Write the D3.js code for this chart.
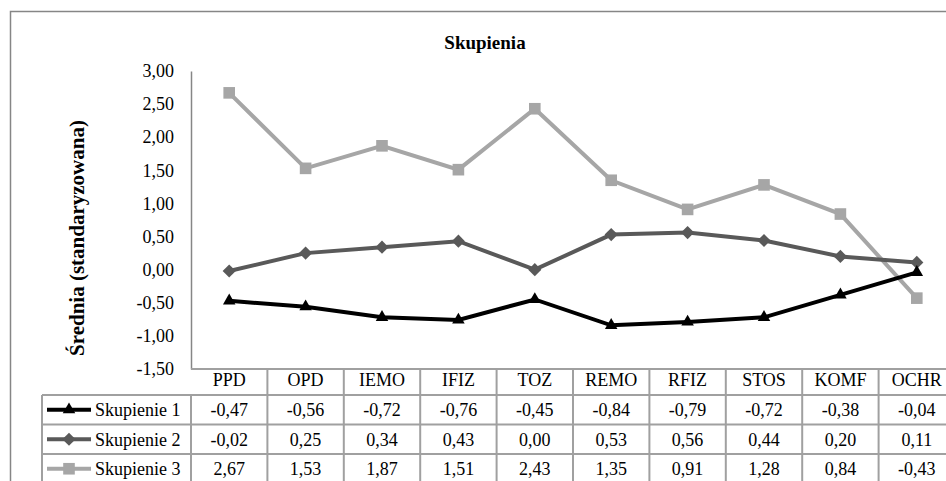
<!DOCTYPE html>
<html><head><meta charset="utf-8"><script src="https://cdn.jsdelivr.net/npm/d3@7"></script></head>
<body style="margin:0">
<script>
var categories = ["PPD", "OPD", "IEMO", "IFIZ", "TOZ", "REMO", "RFIZ", "STOS", "KOMF", "OCHR"];
var seriesNames = ["Skupienie 1", "Skupienie 2", "Skupienie 3"];
var skupienie1 = [-0.47, -0.56, -0.72, -0.76, -0.45, -0.84, -0.79, -0.72, -0.38, -0.04];
var skupienie2 = [-0.02, 0.25, 0.34, 0.43, 0.00, 0.53, 0.56, 0.44, 0.20, 0.11];
var skupienie3 = [2.67, 1.53, 1.87, 1.51, 2.43, 1.35, 0.91, 1.28, 0.84, -0.43];
var yTicks = [-1.5, -1, -0.5, 0, 0.5, 1, 1.5, 2, 2.5, 3];

var series = [
  { name: seriesNames[0], values: skupienie1, color: "#000000", symbol: d3.symbolTriangle, size: 68 },
  { name: seriesNames[1], values: skupienie2, color: "#595959", symbol: d3.symbolDiamond2 || d3.symbolDiamond, size: 110 },
  { name: seriesNames[2], values: skupienie3, color: "#a6a6a6", symbol: d3.symbolSquare, size: 135 }
];

var W = 946, H = 481;
var plotLeft = 191, plotRight = 955, plotTop = 71, plotBottom = 369;
var tableLeft = 42, headerH = 26, rowH = 29.5;
var FONT = "Liberation Serif";

var locale = d3.formatLocale({ decimal: ",", thousands: " ", grouping: [3], currency: ["", ""], minus: "-" });
var fmt = locale.format(".2f");

var svg = d3.select("body").append("svg")
    .attr("width", W)
    .attr("height", H)
    .style("display", "block")
    .style("font-family", FONT);

// outer frame
svg.append("rect")
    .attr("x", 10.5).attr("y", 11.5)
    .attr("width", 1000).attr("height", 600)
    .attr("fill", "none")
    .attr("stroke", "#868686")
    .attr("stroke-width", 1.5);

svg.append("text")
    .attr("x", 485).attr("y", 49)
    .attr("text-anchor", "middle")
    .style("font-family", FONT)
    .style("font-size", "19px")
    .style("font-weight", "bold")
    .text("Skupienia");

svg.append("text")
    .attr("transform", "translate(84,238) rotate(-90)")
    .attr("text-anchor", "middle")
    .style("font-family", FONT)
    .style("font-size", "21px")
    .style("font-weight", "bold")
    .text("Średnia (standaryzowana)");

var x = d3.scaleBand()
    .domain(categories)
    .range([plotLeft, plotRight]);

var y = d3.scaleLinear()
    .domain([-1.5, 3])
    .range([plotBottom, plotTop]);

// y axis labels (no tick marks)
var yAxis = svg.append("g")
    .attr("transform", "translate(" + plotLeft + ",0)")
    .call(d3.axisLeft(y).tickValues(yTicks).tickSize(0).tickPadding(17).tickFormat(fmt));
yAxis.attr("font-family", null).attr("font-size", null);
yAxis.select(".domain").attr("stroke", "#868686").attr("stroke-width", 1.5);
yAxis.selectAll("text")
    .style("font-family", FONT)
    .style("font-size", "18px")
    .attr("fill", "#000");

// lines
var line = d3.line()
    .x(function(d, i) { return x(categories[i]) + x.bandwidth() / 2; })
    .y(function(d) { return y(d); });

series.slice().reverse().forEach(function(s) {
  var g = svg.append("g");
  g.append("path")
      .datum(s.values)
      .attr("d", line)
      .attr("fill", "none")
      .attr("stroke", s.color)
      .attr("stroke-width", 4);
  g.selectAll("path.pt")
      .data(s.values)
    .enter().append("path")
      .attr("class", "pt")
      .attr("transform", function(d, i) { return "translate(" + (x(categories[i]) + x.bandwidth() / 2) + "," + y(d) + ")"; })
      .attr("d", d3.symbol().type(s.symbol).size(s.size))
      .attr("fill", s.color);
});

// data table
var tbl = svg.append("g");
var gridColor = "#a0a0a0";
var tableBottom = plotBottom + headerH + rowH * series.length;

tbl.append("line")
    .attr("x1", plotLeft).attr("x2", plotRight)
    .attr("y1", plotBottom).attr("y2", plotBottom)
    .attr("stroke", gridColor).attr("stroke-width", 2);
for (var r = 0; r <= series.length; r++) {
  var yy = plotBottom + headerH + rowH * r;
  tbl.append("line")
      .attr("x1", tableLeft).attr("x2", plotRight)
      .attr("y1", yy).attr("y2", yy)
      .attr("stroke", gridColor).attr("stroke-width", 2);
}
tbl.append("line")
    .attr("x1", tableLeft).attr("x2", tableLeft)
    .attr("y1", plotBottom + headerH).attr("y2", tableBottom)
    .attr("stroke", gridColor).attr("stroke-width", 2);
categories.forEach(function(c) {
  tbl.append("line")
      .attr("x1", x(c) + x.bandwidth()).attr("x2", x(c) + x.bandwidth())
      .attr("y1", plotBottom).attr("y2", tableBottom)
      .attr("stroke", gridColor).attr("stroke-width", 2);
});
tbl.append("line")
    .attr("x1", plotLeft).attr("x2", plotLeft)
    .attr("y1", plotBottom + headerH).attr("y2", tableBottom)
    .attr("stroke", gridColor).attr("stroke-width", 2);

// header via bottom axis
var xAxis = tbl.append("g")
    .attr("transform", "translate(0," + plotBottom + ")")
    .call(d3.axisBottom(x).tickSize(0).tickPadding(4));
xAxis.attr("font-family", null).attr("font-size", null);
xAxis.select(".domain").remove();
xAxis.selectAll("text")
    .style("font-family", FONT)
    .style("font-size", "18px")
    .attr("fill", "#000");

series.forEach(function(s, r) {
  var cy = plotBottom + headerH + rowH * r + rowH / 2;
  tbl.append("line")
      .attr("x1", 47).attr("x2", 91)
      .attr("y1", cy).attr("y2", cy)
      .attr("stroke", s.color).attr("stroke-width", 4);
  tbl.append("path")
      .attr("transform", "translate(69," + cy + ")")
      .attr("d", d3.symbol().type(s.symbol).size(s.size))
      .attr("fill", s.color);
  tbl.append("text")
      .attr("x", 95).attr("y", cy)
      .attr("dy", "0.35em")
      .style("font-family", FONT)
      .style("font-size", "18px")
      .text(s.name);
  tbl.selectAll("text.v" + r)
      .data(s.values)
    .enter().append("text")
      .attr("class", "v" + r)
      .attr("x", function(d, i) { return x(categories[i]) + x.bandwidth() / 2; })
      .attr("y", cy)
      .attr("dy", "0.35em")
      .attr("text-anchor", "middle")
      .style("font-family", FONT)
      .style("font-size", "18px")
      .text(function(d) { return fmt(d); });
});
</script>
</body>
</html>
